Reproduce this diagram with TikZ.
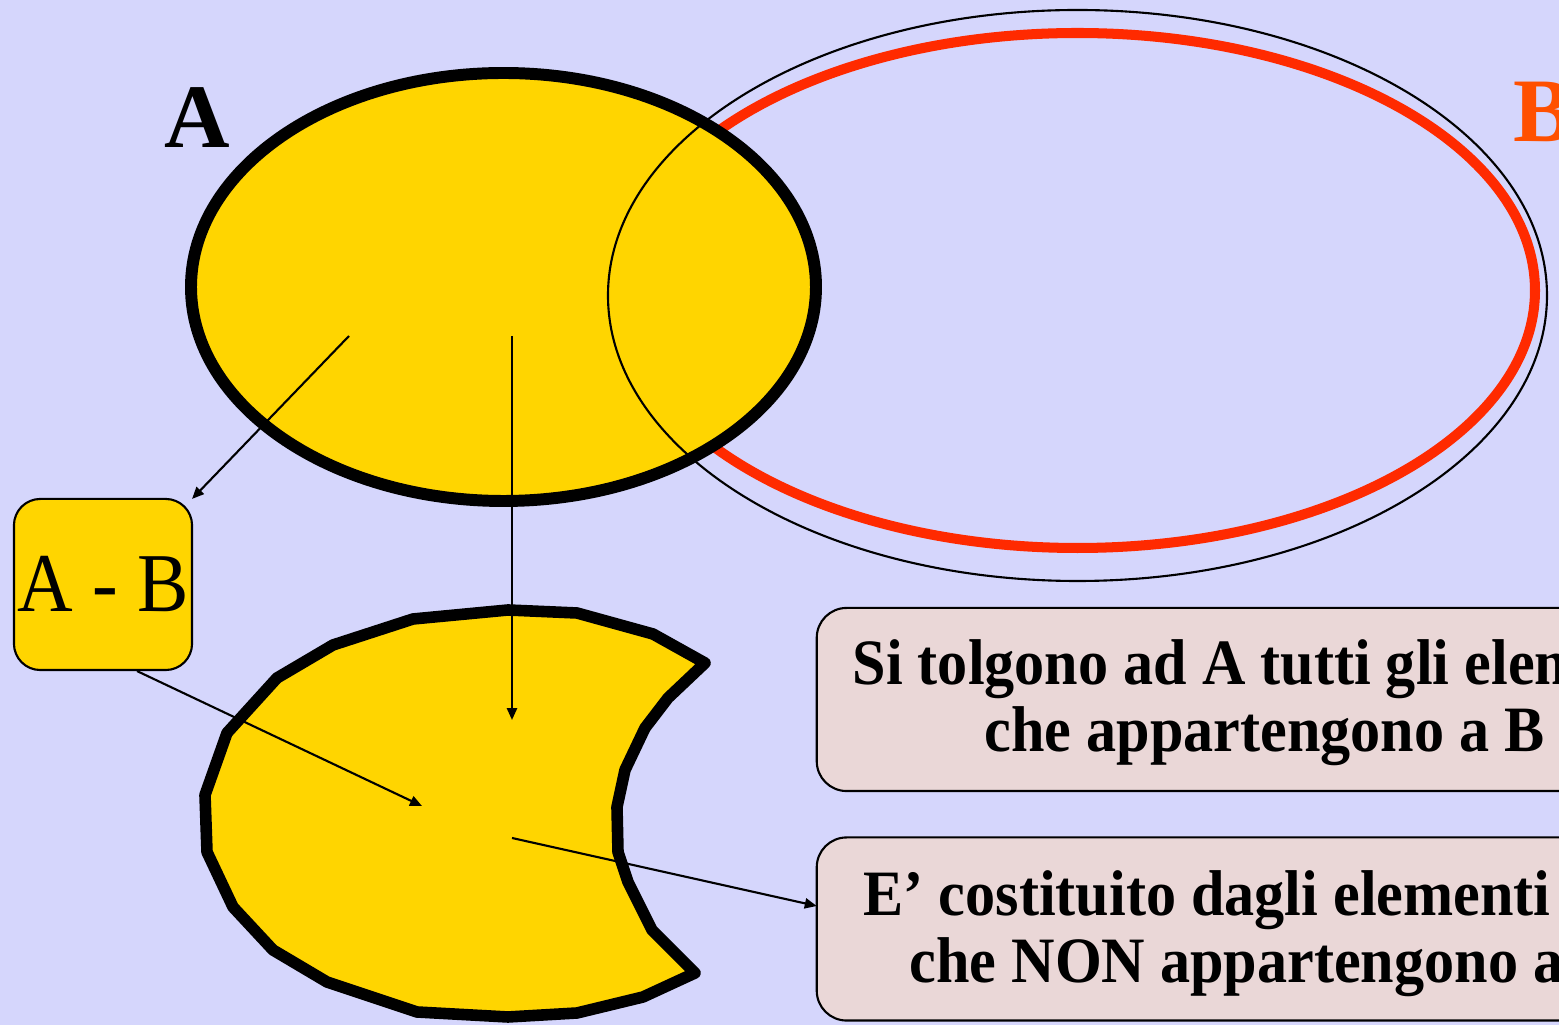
\documentclass[tikz,border=0pt]{standalone}
\usepackage{fontspec}
\setmainfont{Liberation Serif}
\newfontfamily\condbold[FakeStretch=0.93]{Liberation Serif Bold}
\newfontfamily\condreg[FakeStretch=0.92]{Liberation Serif}
\usetikzlibrary{arrows.meta,calc,shapes.geometric}
\definecolor{bgcol}{RGB}{213,214,252}
\definecolor{gold}{RGB}{255,213,0}
\definecolor{redB}{RGB}{255,42,0}
\definecolor{orangeB}{RGB}{255,80,0}
\definecolor{boxcol}{RGB}{234,215,215}
\tikzset{
  thinarrow/.style={line width=0.6pt,-{Triangle[length=3.4pt,width=2.9pt]}},
  infobox/.style={draw=black,line width=0.6pt,fill=boxcol,rounded corners=8.5pt,
    minimum width=9cm,minimum height=1.83cm,inner sep=0pt,outer sep=0pt},
  boxtext/.style={font=\condbold\fontsize{18.4}{19}\selectfont,inner sep=0pt,anchor=base west},
  setlabel/.style={font=\bfseries\fontsize{25.8}{26}\selectfont,inner sep=0pt,anchor=base}
}
\begin{document}
\begin{tikzpicture}[x=0.01cm,y=-0.01cm]
\useasboundingbox (0,0) rectangle (1559,1025);
\fill[bgcol] (0,0) rectangle (1559,1025);
\clip (0,0) rectangle (1559,1025);
% set B (red)
\draw[redB,line width=2.85pt] (1077.5,290.5) ellipse [x radius=457.5,y radius=257.5];
% set A
\draw[black,fill=gold,line width=3.4pt] (503.5,287) ellipse [x radius=312.5,y radius=214];
% thin outline of B
\draw[black,line width=0.6pt] (1077.5,295.5) ellipse [x radius=469.5,y radius=285.5];
% result shape A - B
\draw[black,fill=gold,line width=3.3pt,line join=round]
  (508,610) -- (577,613) -- (653,634) -- (705,663) -- (668,698) -- (645,728) --
  (625,770) -- (617,807) -- (618,852) -- (628,882) -- (652,930) -- (695,973) --
  (643,997) -- (577,1013) -- (508,1017) -- (417,1012) -- (327,982) -- (273,950) --
  (233,907) -- (207,852) -- (205,795) -- (227,733) -- (277,678) -- (333,645) --
  (413,619) -- cycle;
% labels
\node[setlabel] (labA) at (197,148) {A};
\node[setlabel,anchor=base west,text=orangeB] (labB) at (1513,142) {B};
% A - B box
\node[draw=black,line width=0.6pt,fill=gold,rounded corners=7.5pt,minimum width=1.78cm,
  minimum height=1.71cm,inner sep=0pt,outer sep=0pt,
  font=\condreg\fontsize{23.8}{24}\selectfont] (amb) at (103,584.5) {A - B};
% info boxes
\node[infobox] (box1) at (1267,699.5) {};
\node[infobox] (box2) at (1267,929) {};
\node[boxtext] (t1a) at (852,685) {Si tolgono ad A tutti gli elementi};
\node[boxtext] (t1b) at (984,752) {che appartengono a B};
\node[boxtext] (t2a) at (863,916) {E’ costituito dagli elementi di A};
\node[boxtext] (t2b) at (909,983) {che NON appartengono a B};
% arrow anchors
\coordinate (s1) at (349,336);
\coordinate (s2) at (512,336);
\coordinate (e2) at (512,720);
\coordinate (s3) at ($(amb.south)+(34,1)$);
\coordinate (e3) at (422,806);
\coordinate (s4) at (512,838);
\coordinate (e4) at (815,906);
% arrows
\draw[thinarrow] (s1) -- (amb.north east);
\draw[thinarrow] (s2) -- (e2);
\draw[thinarrow] (s3) -- (e3);
\draw[thinarrow] (s4) -- (box2.west |- e4);
\end{tikzpicture}
\end{document}
